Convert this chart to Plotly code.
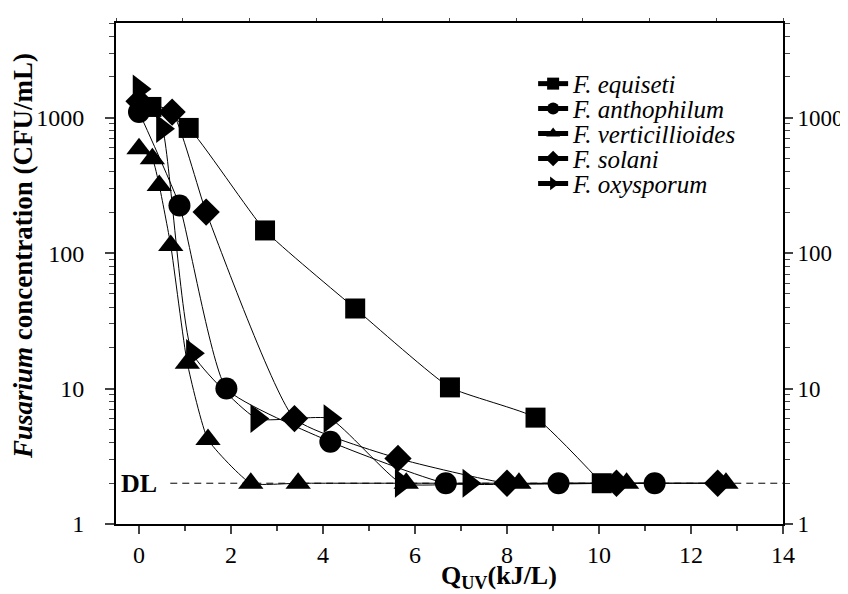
import math
import plotly.graph_objects as go

# ---- data ----
eq_x = [0.27, 1.08, 2.74, 4.70, 6.76, 8.62, 10.06]
eq_y = [1200, 840, 147, 39, 10.2, 6.1, 2]

an_x = [0, 0.88, 1.90, 4.16, 6.67, 9.12, 11.21]
an_y = [1100, 225, 10, 4.05, 2, 2, 2]

ve_x = [0, 0.29, 0.44, 0.69, 1.05, 1.50, 2.43, 3.46, 5.81, 8.26, 10.60, 12.76]
ve_y = [590, 497, 316, 114, 15.4, 4.2, 2, 2, 2, 2, 2, 2]

so_x = [0, 0.72, 1.46, 3.38, 5.63, 8.00, 10.38, 12.58]
so_y = [1320, 1100, 201, 6.0, 3.05, 2, 2, 2]

ox_x = [0, 0.51, 1.16, 2.56, 4.15, 5.70, 7.17]
ox_y = [1630, 830, 18.2, 6.0, 6.0, 2, 2]

names = ["F. equiseti", "F. anthophilum", "F. verticillioides", "F. solani", "F. oxysporum"]
symbols = ["square", "circle", "triangle-up", "diamond", "triangle-right"]
sizes = [20, 22, 22, 21, 25]

dl_value = 2
dl_x = [0.68, 14]

x_ticks = [0, 2, 4, 6, 8, 10, 12, 14]
y_ticks = [1, 10, 100, 1000]

FONT = "Liberation Serif"

# plot area geometry in pixels
L, R, T, B = 108, 70, 14, 78
W, H = 848, 594
PW, PH = W - L - R, H - T - B


def px_x(p):
    return (p - L) / PW


def px_y(p):
    return (H - B - p) / PH


legend_ids = ["legend", "legend2", "legend3", "legend4", "legend5"]
legend_rows = [75, 100, 125, 150, 175]

fig = go.Figure()
series = [(eq_x, eq_y), (an_x, an_y), (ve_x, ve_y), (so_x, so_y), (ox_x, ox_y)]
for (xs, ys), nm, sym, sz, lg in zip(series, names, symbols, sizes, legend_ids):
    fig.add_trace(go.Scatter(
        x=xs, y=ys, mode="lines+markers", name="<i>" + nm + "</i>", legend=lg,
        line=dict(color="black", width=1, shape="spline", smoothing=0.45),
        marker=dict(symbol=sym, size=sz, color="black", line=dict(width=0)),
    ))

fig.add_trace(go.Scatter(
    x=dl_x, y=[dl_value, dl_value], mode="lines", showlegend=False,
    line=dict(color="black", width=1, dash="7px,5px"), hoverinfo="skip",
))
# helper trace for overlay axes
fig.add_trace(go.Scatter(x=[None], y=[None], xaxis="x2", yaxis="y2",
                         showlegend=False, hoverinfo="skip"))

legend_layout = {}
for lg, row in zip(legend_ids, legend_rows):
    legend_layout[lg] = dict(
        x=px_x(527), y=px_y(row), xanchor="left", yanchor="middle",
        bgcolor="rgba(0,0,0,0)", borderwidth=0,
        font=dict(family=FONT, size=25, color="black"),
        itemsizing="constant")

ymax = math.log10(5000)
fig.update_layout(
    width=W, height=H,
    margin=dict(l=L, r=R, t=T, b=B),
    paper_bgcolor="white", plot_bgcolor="white",
    font=dict(family=FONT, size=24, color="black"),
    showlegend=True,
    xaxis=dict(range=[-0.5, 14], tickvals=x_ticks, ticks="outside", ticklen=8,
               tickwidth=1.5, showline=True, linewidth=2, linecolor="black",
               showgrid=False, zeroline=False, mirror=False,
               minor=dict(dtick=1, ticks="outside", ticklen=5, tickwidth=1.5, showgrid=False),
               tickfont=dict(size=24), ticklabelstandoff=0),
    yaxis=dict(type="log", range=[0, ymax], tickvals=y_ticks, ticktext=[str(v) for v in y_ticks],
               ticks="outside", ticklen=9, tickwidth=1.5, showline=True, linewidth=2,
               linecolor="black", showgrid=False, zeroline=False,
               minor=dict(ticks="outside", ticklen=5, tickwidth=1, showgrid=False, dtick="D1"),
               tickfont=dict(size=24), ticklabelstandoff=16),
    xaxis2=dict(overlaying="x", side="top", range=[0, 10], dtick=1, ticks="outside",
                ticklen=3, showticklabels=False, showline=True, linewidth=2,
                linecolor="black", showgrid=False, zeroline=False),
    yaxis2=dict(overlaying="y", side="right", type="log", range=[0, ymax],
                tickvals=y_ticks, ticktext=[str(v) for v in y_ticks],
                ticks="outside", ticklen=8, tickwidth=1.5, showline=True, linewidth=2,
                linecolor="black", showgrid=False, zeroline=False,
                minor=dict(ticks="outside", ticklen=5, tickwidth=1, showgrid=False, dtick="D1"),
                tickfont=dict(size=23), ticklabelstandoff=0),
    annotations=[
        dict(text="<b>Q<sub>UV</sub>(kJ/L)</b>", xref="paper", yref="paper",
             x=px_x(493), y=px_y(569), xanchor="center", yanchor="middle", showarrow=False,
             font=dict(family=FONT, size=26, color="black")),
        dict(text="<b><i>Fusarium</i> concentration (CFU/mL)</b>", xref="paper", yref="paper",
             x=px_x(14), y=px_y(247), xanchor="center", yanchor="middle", textangle=-90,
             showarrow=False, font=dict(family=FONT, size=27, color="black")),
        dict(text="<b>DL</b>", xref="x", yref="y", x=0.0, y=math.log10(dl_value),
             xanchor="center", yanchor="middle", showarrow=False,
             font=dict(family=FONT, size=26, color="black")),
    ],
    **legend_layout,
)

fig.write_html("out.html")
